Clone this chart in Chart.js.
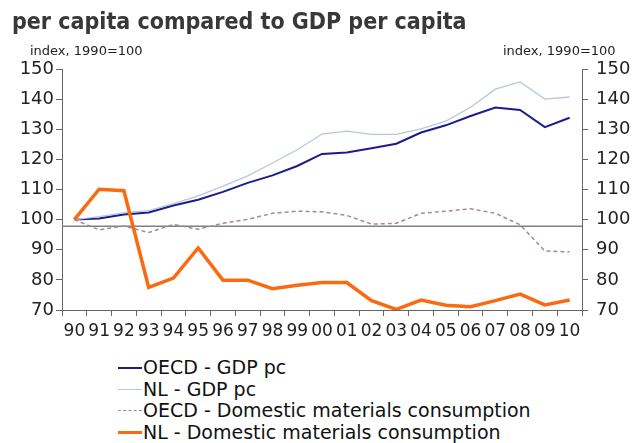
<!DOCTYPE html>
<html>
<head>
<meta charset="utf-8">
<script src="https://cdn.jsdelivr.net/npm/chart.js@4/dist/chart.umd.min.js"></script>
<style>
  body{margin:0;background:#fff;}
  #page{position:relative;width:639px;height:443px;overflow:hidden;font-family:"DejaVu Sans",sans-serif;}
  #title{position:absolute;left:12px;top:10px;font:bold 23px/23px "DejaVu Sans Condensed","DejaVu Sans",sans-serif;color:#383838;white-space:nowrap;}
  .unit{position:absolute;top:44px;font:13px/13px "DejaVu Sans",sans-serif;color:#222;white-space:nowrap;}
  #chartBox{position:absolute;left:0;top:0;width:639px;height:345px;}
  #legend{position:absolute;left:118px;top:357px;margin:0;padding:0;list-style:none;}
  #legend li{display:flex;align-items:center;height:21.5px;font:19px/21.5px "DejaVu Sans",sans-serif;color:#111;white-space:nowrap;}
  #legend .swatch{display:inline-block;width:24px;height:0;margin-right:1px;}
</style>
</head>
<body>
<div id="page">
  <div id="chartBox"><canvas id="chart"></canvas></div>
  <div id="title">per capita compared to GDP per capita</div>
  <div class="unit" style="left:30px">index, 1990=100</div>
  <div class="unit" style="left:503px">index, 1990=100</div>
  <ul id="legend"></ul>
</div>
<script>
const years = ["90","91","92","93","94","95","96","97","98","99","00","01","02","03","04","05","06","07","08","09","10"];
const oecdGdp = [100,100.4,101.7,102.4,104.7,106.6,109.2,112.2,114.7,117.8,121.8,122.3,123.7,125.2,128.9,131.3,134.4,137.2,136.4,130.7,133.8];
const nlGdp = [100,101,102.3,103,105.3,107.9,111.1,114.5,118.8,123.2,128.4,129.4,128.3,128.3,130.1,132.7,137.3,143.3,145.7,140,140.7];
const oecdDmc = [100,96.6,97.9,95.7,98.4,96.8,98.8,100.1,102.1,102.8,102.6,101.4,98.5,98.8,102.1,102.8,103.6,102.1,98.3,89.6,89.3];
const nlDmc = [100,110.1,109.6,77.5,80.6,90.6,79.9,79.9,77.1,78.2,79.1,79.1,73.1,70.2,73.3,71.6,71.1,73.1,75.3,71.7,73.3];
const refLevel = 97.8;
const yTicks = {min:70, max:150, step:10};

const axisGrey = "#666";
const tickFont = {family:"DejaVu Sans", size:18};

// grey horizontal line across the plot
const refLine = {
  id:"refLine",
  beforeDatasetsDraw(chart){
    const {ctx, chartArea, scales} = chart;
    const y = scales.y.getPixelForValue(refLevel);
    ctx.save();
    ctx.strokeStyle = "#808080";
    ctx.lineWidth = 1.5;
    ctx.beginPath();
    ctx.moveTo(chartArea.left, y);
    ctx.lineTo(chartArea.right, y);
    ctx.stroke();
    ctx.restore();
  }
};

const yAxis = (side) => ({
  position: side,
  min: yTicks.min,
  max: yTicks.max,
  ticks: {stepSize: yTicks.step, font: tickFont, color: "#222", padding: side === "left" ? 2 : 8},
  grid: {drawOnChartArea: false, drawTicks: true, tickLength: 6, color: axisGrey},
  border: {display: true, color: axisGrey},
  afterFit(scale){ scale.width = side === "left" ? 62 : 57; }
});

const chart = new Chart(document.getElementById("chart"), {
  type: "line",
  data: {
    labels: years,
    datasets: [
      {label:"OECD - GDP pc", data: oecdGdp, borderColor:"#1c1c8a", borderWidth:2, yAxisID:"y"},
      {label:"NL - GDP pc", data: nlGdp, borderColor:"#b7c7dc", borderWidth:1.3, yAxisID:"y"},
      {label:"OECD - Domestic materials consumption", data: oecdDmc, borderColor:"#a8869a", borderWidth:1.5, borderDash:[4,3], yAxisID:"y"},
      {label:"NL - Domestic materials consumption", data: nlDmc, borderColor:"#fa6a10", borderWidth:3.5, yAxisID:"y"}
    ].reverse()
  },
  options: {
    responsive: true,
    maintainAspectRatio: false,
    animation: false,
    layout: {padding: {top: 69, left: 0, right: 0, bottom: 0}},
    elements: {point: {radius: 0}, line: {tension: 0, fill: false}},
    plugins: {legend: {display: false}, tooltip: {enabled: false}},
    scales: {
      x: {
        offset: true,
        ticks: {font: {family:"DejaVu Sans", size:17}, color:"#222", autoSkip:false, maxRotation:0, padding:5},
        grid: {offset: true, drawOnChartArea: false, tickLength: 6, color: axisGrey},
        border: {display: true, color: axisGrey},
        afterFit(scale){ scale.height = 35; }
      },
      y: yAxis("left"),
      y1: yAxis("right")
    }
  },
  plugins: [refLine]
});

// legend in original order, one item per row
const legend = document.getElementById("legend");
chart.data.datasets.slice().reverse().forEach(ds => {
  const li = document.createElement("li");
  const sw = document.createElement("span");
  sw.className = "swatch";
  const w = Math.max(1, Math.round(ds.borderWidth * 0.8));
  sw.style.borderTop = w + "px " + (ds.borderDash ? "dashed " : "solid ") + ds.borderColor;
  li.appendChild(sw);
  li.appendChild(document.createTextNode(ds.label));
  legend.appendChild(li);
});
</script>
</body>
</html>
